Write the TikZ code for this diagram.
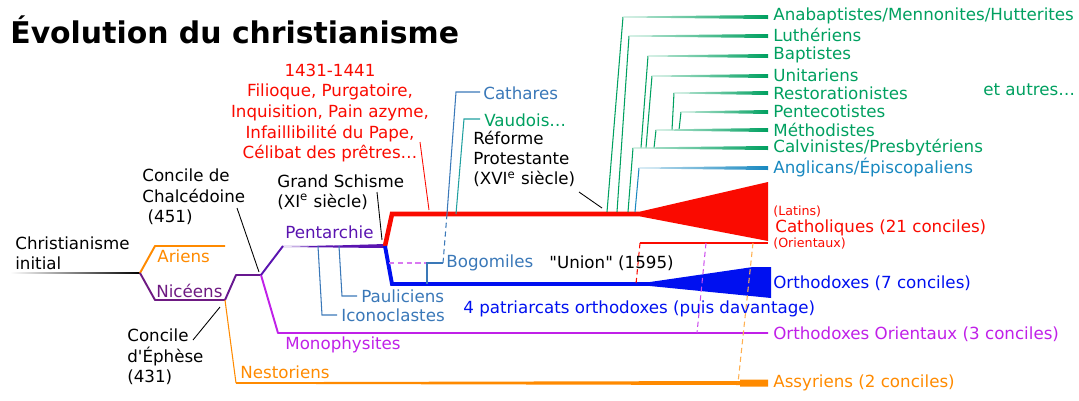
\documentclass[tikz,border=0pt]{standalone}
\usepackage{fontspec}
\setmainfont{DejaVu Sans}
\newfontfamily\brut{DejaVu Sans}
\usetikzlibrary{positioning, calc}
\definecolor{Rouge}{HTML}{FA0A00}
\definecolor{Bleu}{HTML}{0010F0}
\definecolor{Orange}{HTML}{FF8A00}
\definecolor{OrangeClair}{HTML}{FFB050}
\definecolor{Magenta}{HTML}{C020E8}
\definecolor{Niceen}{HTML}{6E1A82}
\definecolor{Penta}{HTML}{5A14B0}
\definecolor{Hetero}{HTML}{3A78B8}
\definecolor{Prot}{HTML}{00A060}
\definecolor{Vaud}{HTML}{20A0A0}
\definecolor{Angl}{HTML}{1888C0}
\tikzset{
    lbl/.style={anchor=west, inner sep=0pt, align=left, font=\fontsize{9.5}{11.6}\selectfont},
    petit/.style={anchor=west, inner sep=0pt, font=\fontsize{7.2}{8.5}\selectfont},
    titre/.style={anchor=west, inner sep=0pt, font=\fontsize{17}{20}\selectfont\bfseries},
    branche/.style={line width=1.1pt, line join=round},
    fil/.style={line width=0.6pt},
    tirets/.style={line width=0.6pt, dash pattern=on 3pt off 2pt},
    renvoi/.style={line width=0.5pt, black},
}

\begin{document}
\begin{tikzpicture}[x=0.02cm, y=-0.02cm]
    \useasboundingbox (0,0) rectangle (1079,400);

    \node[titre] (titre) at (10,30) {Évolution du christianisme};

    % points de division
    \coordinate (init) at (140,273);
    \coordinate (nic) at (225,300);
    \coordinate (chal) at (261,275);
    \coordinate (schisme) at (385,246);
    \coordinate (rouge) at (640,214);
    \coordinate (bleu) at (650,284);
    \coordinate (orient) at (640,243);

    % tronc initial
    \shade[left color=white, right color=black] (10,272.3) rectangle (init |- 0,273.7);
    \node[lbl] (christ) at (15,253) {Christianisme\\initial};

    % Ariens / Nicéens
    \draw[branche, Orange] (init) -- (155,246) -- (225,246);
    \node[lbl, text=Orange] (ariens) at (157,256) {Ariens};
    \draw[branche, Niceen] (init) -- (155,300) -- (nic);
    \node[lbl, text=Niceen] (niceens) at (156,291) {Nicéens};
    \draw[branche, Niceen!70!Penta] (nic) -- (236,275) -- (chal);

    % Nestoriens
    \draw[fil, Orange] (nic) -- (236,383);
    \fill[Orange] (236,382.2) -- (740,381) -- (740,379.5) -- (768,379.5) -- (768,386.5) -- (740,386.5) -- (740,385) -- (236,383.8) -- cycle;
    \node[lbl, text=Orange] (nest) at (240,372) {Nestoriens};

    % Monophysites
    \draw[branche, Magenta] (chal) -- (278,333) -- (768,333);
    \node[lbl, text=Magenta] (mono) at (285,345) {Monophysites};

    % Pentarchie
    \draw[branche, Penta] (chal) -- (283,246);
    \fill[Penta] (283,245) -- (schisme) ++(0,-2) -- (385,248) -- (283,247) -- cycle;
    \node[lbl, text=Penta] (penta) at (285,232) {Pentarchie};

    % Catholiques
    \draw[line width=2.6pt, Rouge] (schisme) -- (392,214) -- (rouge);
    \fill[Rouge] (640,211.6) -- (768,182) -- (768,241) -- (640,216.4) -- cycle;
    \node[petit, text=Rouge] (latins) at (773,212) {(Latins)};
    \node[lbl, text=Rouge] (catho) at (775,228) {Catholiques (21 conciles)};
    \draw[branche, Rouge] (orient) -- (768,243);
    \node[petit, text=Rouge] (orientaux) at (773,244) {(Orientaux)};

    % Orthodoxes
    \draw[line width=2.2pt, Bleu] (schisme) -- (392,284) -- (bleu);
    \fill[Bleu] (650,282) -- (753,267) -- (771,267) -- (771,298) -- (650,286) -- cycle;
    \node[lbl, text=Bleu] (ortho) at (773,283) {Orthodoxes (7 conciles)};
    \node[lbl, text=Bleu] (patri) at (463,309) {4 patriarcats orthodoxes (puis davantage)};

    % unions
    \draw[tirets, Rouge] (orient) -- (636,284);
    \draw[tirets, Magenta!80] (706,243) -- (697,333);
    \draw[tirets, OrangeClair] (753,243) -- (738,383);
    \node[lbl] (union) at (549,263) {{\brut "Union"} (1595)};

    \node[lbl, text=Magenta] (orthoor) at (773,334) {Orthodoxes Orientaux (3 conciles)};
    \node[lbl, text=Orange] (assyr) at (773,383) {Assyriens (2 conciles)};

    % hérésies
    \draw[fil, Hetero] (318,246) -- (322,315) -- (337,315);
    \node[lbl, text=Hetero] (icono) at (341,315) {Iconoclastes};
    \draw[fil, Hetero] (339,246) -- (342,296) -- (357,296);
    \node[lbl, text=Hetero] (paul) at (361,296) {Pauliciens};
    \draw[tirets, Magenta!60] (389,263) -- (427,263);
    \draw[fil, Hetero] (427,284) -- (427,263) -- (443,263);
    \node[lbl, text=Hetero] (bogo) at (446,263) {Bogomiles};
    \draw[tirets, Hetero] (443,263) -- (447,214);
    \draw[fil, Hetero] (447,214) -- (456,92) -- (480,92);
    \node[lbl, text=Hetero] (cath) at (483,93) {Cathares};
    \draw[fil, Vaud] (456,214) -- (464,119) -- (480,119);
    \node[lbl, text=Prot] (vaud) at (484,120) {Vaudois…};

    % Réforme
    \draw[fil, Prot] (607,212) -- (623,17);
    \draw[fil, Prot] (617,212) -- (629,36);
    \draw[fil, Prot] (628,212) -- (633,148);
    \draw[fil, Prot] (641,148) -- (648,56);
    \draw[fil, Prot] (646,148) -- (652,76);
    \draw[fil, Prot] (654,148) -- (656,130);
    \draw[fil, Prot] (672,130) -- (674,93);
    \draw[fil, Prot] (679,130) -- (681,112);
    \foreach \xa/\y in {623/17, 629/36, 648/56, 652/76, 674/93, 681/112, 656/130, 633/148}
        \shade[left color=Prot!25, right color=Prot] (\xa,\y-0.5) -- (768,\y-2) -- (768,\y+2) -- (\xa,\y+0.5) -- cycle;
    \draw[fil, Angl] (635,212) -- (639,168);
    \shade[left color=Angl!25, right color=Angl] (639,167.5) -- (768,166) -- (768,170) -- (639,168.5) -- cycle;

    \node[lbl, text=Prot] (anab) at (773,16) {Anabaptistes/Mennonites/Hutterites};
    \node[lbl, text=Prot] (luth) at (773,35) {Luthériens};
    \node[lbl, text=Prot] (bapt) at (773,55) {Baptistes};
    \node[lbl, text=Prot] (unit) at (773,75) {Unitariens};
    \node[lbl, text=Prot] (resto) at (773,93) {Restorationistes};
    \node[lbl, text=Prot] (pente) at (773,111) {Pentecotistes};
    \node[lbl, text=Prot] (metho) at (773,130) {Méthodistes};
    \node[lbl, text=Prot] (calv) at (773,148) {Calvinistes/Presbytériens};
    \node[lbl, text=Angl] (angl) at (773,167) {Anglicans/Épiscopaliens};
    \node[lbl, text=Prot] (autres) at (983,90) {et autres…};

    % conciles et événements
    \node[lbl] (chalced) at (142,197) {Concile de\\Chalcédoine\\~(451)};
    \draw[renvoi] (237,208) -- (259,272);
    \node[lbl] (ephese) at (127,357) {Concile\\d{\brut '}Éphèse\\(431)};
    \draw[renvoi] (193,340) -- (220,307);
    \node[lbl] (gschisme) at (277,192) {Grand Schisme\\(XI\textsuperscript{e} siècle)};
    \draw[renvoi] (377,192) -- (382,240);
    \node[lbl] (reforme) at (473,159) {Réforme\\Protestante\\(XVI\textsuperscript{e} siècle)};
    \draw[renvoi] (579,192) -- (602,208);
    \node[lbl, align=center, anchor=center, text=Rouge, font=\fontsize{9.5}{11.8}\selectfont] (florence) at (330,113)
        {1431-1441\\Filioque, Purgatoire,\\Inquisition, Pain azyme,\\Infaillibilité du Pape,\\Célibat des prêtres…};
    \draw[renvoi, Rouge] (420,142) -- (429,210);
\end{tikzpicture}
\end{document}
